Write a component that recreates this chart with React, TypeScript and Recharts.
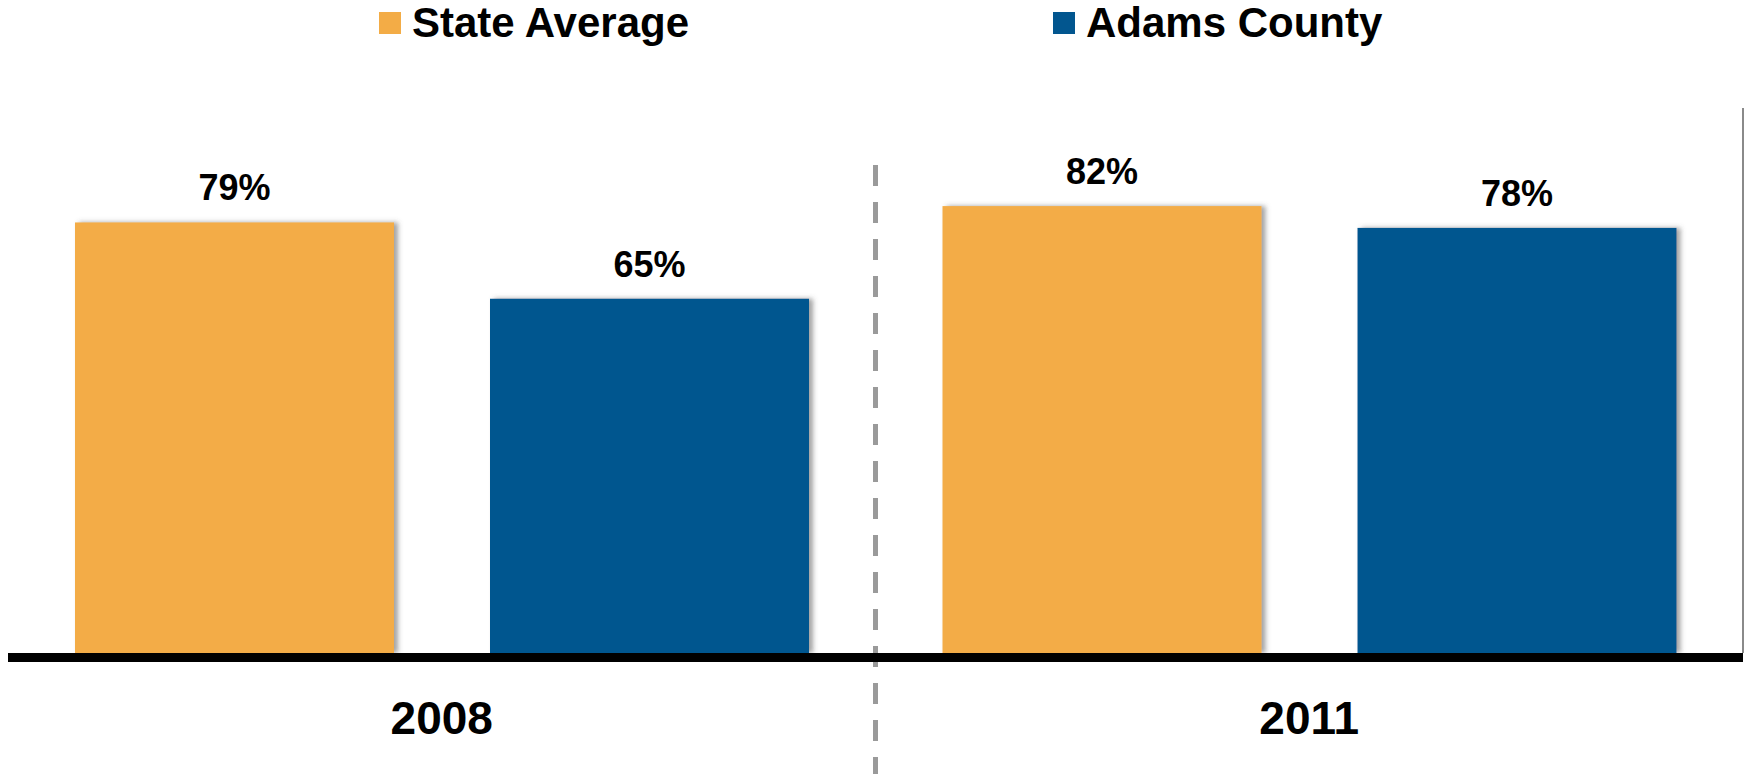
import { BarChart, Bar, XAxis, YAxis, LabelList, ReferenceLine } from 'recharts';

const years = ['2008', '2011'];
const stateAverage = [79, 82];
const adamsCounty = [65, 78];
const seriesNames = ['State Average', 'Adams County'];
const seriesColors = ['#F3AC46', '#02568F'];

const data = years.map((year, i) => ({
  year,
  state: stateAverage[i],
  adams: adamsCounty[i],
}));

const font = '"Liberation Sans", Arial, sans-serif';

const ShadowBar = (props: any) => {
  const { x, y, width, height, fill } = props;
  if (!height || height <= 0) return null;
  return <rect x={x} y={y} width={width} height={height} fill={fill} filter="url(#barShadow)" />;
};

// dashed separator between the two years, runs past the axis to the bottom edge
const Divider = (props: any) => {
  const top = Math.min(props.y1, props.y2);
  const bottom = Math.max(props.y1, props.y2);
  return (
    <line
      x1={props.x1}
      x2={props.x2}
      y1={top + 57}
      y2={bottom + 121}
      stroke="#9a9a9a"
      strokeWidth={5}
      strokeDasharray="21 16"
    />
  );
};

const legendX = [379, 1053];

export default function App() {
  return (
    <div style={{ position: 'absolute', left: 0, top: 0, width: 1748, height: 774, background: '#fff', fontFamily: font }}>
      {seriesNames.map((name, i) => (
        <div
          key={name}
          style={{ position: 'absolute', left: legendX[i], top: 0, height: 46, display: 'flex', alignItems: 'center' }}
        >
          <div style={{ width: 22, height: 22, background: seriesColors[i], marginRight: 11 }} />
          <span style={{ fontSize: 42, fontWeight: 700, color: '#000', lineHeight: '46px' }}>{name}</span>
        </div>
      ))}
      <BarChart
        width={1748}
        height={774}
        data={data}
        margin={{ top: 108, right: 5, left: 8, bottom: 0 }}
        barCategoryGap={67}
        barGap={96}
      >
        <defs>
          <filter id="barShadow" x="-5%" y="-5%" width="115%" height="110%">
            <feDropShadow dx={4} dy={0} stdDeviation={2.5} floodColor="#555" floodOpacity={0.55} />
          </filter>
        </defs>
        <XAxis
          dataKey="year"
          height={121}
          tickLine={false}
          tickSize={0}
          tickMargin={48}
          axisLine={{ stroke: '#000', strokeWidth: 9, transform: 'translate(0,4.5)' }}
          tick={{ fontSize: 46, fontWeight: 700, fill: '#000', fontFamily: font }}
        />
        <YAxis hide domain={[0, 100]} />
        <ReferenceLine x="2011" position="start" shape={Divider} />
        <ReferenceLine x="2011" position="end" stroke="#8a8a8a" strokeWidth={2} />
        <Bar dataKey="state" name={seriesNames[0]} fill={seriesColors[0]} shape={ShadowBar} isAnimationActive={false}>
          <LabelList
            dataKey="state"
            position="top"
            offset={22}
            formatter={(v: any) => `${v}%`}
            style={{ fontSize: 36, fontWeight: 700, fill: '#000', fontFamily: font }}
          />
        </Bar>
        <Bar dataKey="adams" name={seriesNames[1]} fill={seriesColors[1]} shape={ShadowBar} isAnimationActive={false}>
          <LabelList
            dataKey="adams"
            position="top"
            offset={22}
            formatter={(v: any) => `${v}%`}
            style={{ fontSize: 36, fontWeight: 700, fill: '#000', fontFamily: font }}
          />
        </Bar>
      </BarChart>
    </div>
  );
}
